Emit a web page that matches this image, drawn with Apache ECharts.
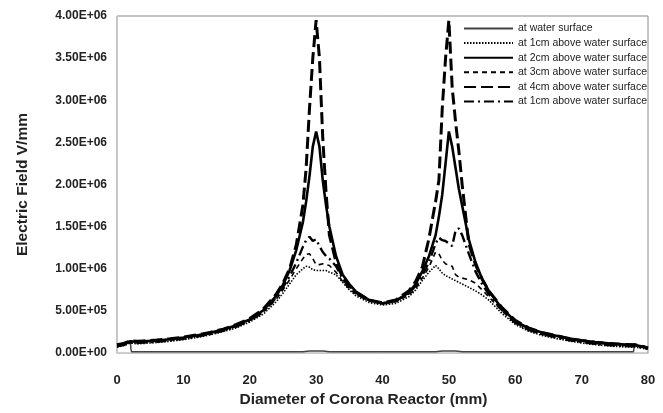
<!DOCTYPE html>
<html>
<head>
<meta charset="utf-8">
<script src="https://cdn.jsdelivr.net/npm/echarts@6/dist/echarts.min.js"></script>
<style>html,body{margin:0;padding:0;background:#fff;}#c{width:663px;height:413px;}</style>
</head>
<body>
<div id="c"></div>
<script>
// shared x positions (mm)
var xs = [0,1,2,3,4,6,8,10,12,14,16,18,20,22,24,25,26,27,28,28.5,29,29.5,30,30.5,31,31.5,32,33,34,35,36,38,40,42,44,45,46,47,48,48.5,49,49.5,50,50.5,51,51.5,52,53,54,55,56,58,60,62,64,66,68,70,72,74,76,78,79,80];

var names = ['at water surface','at 1cm above water surface','at 2cm above water surface','at 3cm above water surface','at 4cm above water surface','at 1cm above water surface '];

// at water surface (own x positions)
var waterX = [2.0,2.1,2.2,28,29,30,31,32,48,49,50,51,52,77.8,77.9,78.0];
var waterY = [1.4e5,0.5e5,0.15e5,0.15e5,0.25e5,0.25e5,0.25e5,0.15e5,0.15e5,0.25e5,0.25e5,0.25e5,0.15e5,0.15e5,0.6e5,1.2e5];

var dotted1cm = [0.7e5,0.9e5,1.2e5,1.1e5,1.15e5,1.25e5,1.4e5,1.6e5,1.85e5,2.15e5,2.55e5,3.0e5,3.7e5,4.6e5,6.1e5,7.1e5,8.2e5,9.3e5,1.0e6,1.03e6,1.02e6,0.99e6,0.98e6,0.98e6,0.98e6,0.98e6,0.96e6,0.93e6,0.84e6,0.75e6,0.68e6,0.6e6,0.57e6,0.59e6,0.67e6,0.75e6,0.86e6,0.96e6,1.04e6,1.0e6,0.95e6,0.92e6,0.9e6,0.88e6,0.86e6,0.84e6,0.82e6,0.78e6,0.74e6,0.69e6,0.63e6,0.47e6,0.34e6,2.6e5,2.1e5,1.75e5,1.45e5,1.2e5,1.0e5,0.85e5,0.75e5,0.7e5,0.6e5,0.45e5];

var solid2cm = [0.95e5,1.1e5,1.4e5,1.35e5,1.4e5,1.5e5,1.65e5,1.85e5,2.1e5,2.4e5,2.8e5,3.3e5,4.0e5,5.05e5,6.8e5,8.1e5,9.8e5,1.22e6,1.55e6,1.8e6,2.1e6,2.45e6,2.63e6,2.45e6,2.05e6,1.75e6,1.5e6,1.15e6,0.93e6,0.82e6,0.73e6,0.63e6,0.59e6,0.62e6,0.72e6,0.82e6,0.97e6,1.15e6,1.4e6,1.62e6,1.88e6,2.25e6,2.63e6,2.45e6,2.2e6,1.95e6,1.75e6,1.35e6,1.08e6,0.88e6,0.74e6,0.53e6,0.38e6,2.95e5,2.45e5,2.1e5,1.75e5,1.5e5,1.3e5,1.15e5,1.05e5,0.95e5,0.8e5,0.6e5];

var dash3cm = [0.85e5,1.0e5,1.3e5,1.25e5,1.3e5,1.4e5,1.55e5,1.75e5,2.0e5,2.3e5,2.7e5,3.15e5,3.85e5,4.85e5,6.4e5,7.5e5,8.7e5,1.0e6,1.12e6,1.17e6,1.18e6,1.12e6,1.05e6,1.05e6,1.06e6,1.05e6,1.04e6,0.96e6,0.85e6,0.76e6,0.7e6,0.62e6,0.585e6,0.61e6,0.69e6,0.77e6,0.89e6,1.02e6,1.2e6,1.18e6,1.1e6,1.06e6,1.04e6,1.03e6,0.93e6,0.9e6,0.89e6,0.87e6,0.83e6,0.75e6,0.67e6,0.5e6,0.36e6,2.75e5,2.25e5,1.9e5,1.6e5,1.35e5,1.15e5,1.0e5,0.9e5,0.85e5,0.72e5,0.52e5];

var longdash4cm = [1.0e5,1.15e5,1.45e5,1.4e5,1.45e5,1.55e5,1.7e5,1.9e5,2.15e5,2.45e5,2.85e5,3.4e5,4.1e5,5.2e5,7.0e5,8.3e5,1.0e6,1.28e6,1.75e6,2.2e6,2.9e6,3.5e6,3.95e6,3.5e6,2.55e6,1.9e6,1.4e6,1.08e6,0.9e6,0.8e6,0.72e6,0.63e6,0.595e6,0.63e6,0.74e6,0.85e6,1.02e6,1.36e6,1.8e6,2.05e6,2.9e6,3.5e6,3.95e6,3.15e6,2.75e6,2.4e6,2.0e6,1.3e6,1.05e6,0.88e6,0.74e6,0.54e6,0.39e6,3.0e5,2.45e5,2.1e5,1.75e5,1.5e5,1.3e5,1.15e5,1.05e5,1.0e5,0.85e5,0.62e5];

var dashdot1cm = [0.8e5,0.95e5,1.25e5,1.2e5,1.25e5,1.35e5,1.5e5,1.7e5,1.95e5,2.25e5,2.65e5,3.15e5,3.85e5,4.85e5,6.6e5,7.8e5,9.1e5,1.07e6,1.26e6,1.34e6,1.38e6,1.33e6,1.35e6,1.27e6,1.2e6,1.15e6,1.12e6,1.03e6,0.88e6,0.78e6,0.71e6,0.62e6,0.59e6,0.62e6,0.71e6,0.8e6,0.92e6,1.08e6,1.3e6,1.37e6,1.34e6,1.33e6,1.3e6,1.27e6,1.45e6,1.48e6,1.4e6,1.18e6,0.97e6,0.82e6,0.7e6,0.51e6,0.36e6,2.75e5,2.25e5,1.9e5,1.55e5,1.3e5,1.1e5,0.95e5,0.85e5,0.8e5,0.68e5,0.5e5];

var xTicks = [0,10,20,30,40,50,60,70,80];

function zip(x, y){ return x.map(function(v,i){ return [v, y[i]]; }); }
function sci(v){
  var p = v.toExponential(2).split('e');
  var e = p[1]; var s = e[0]; var d = e.slice(1); if (d.length < 2) d = '0' + d;
  return p[0] + 'E' + s + d;
}

var chart = echarts.init(document.getElementById('c'), null, {renderer:'canvas'});
var FONT = 'Liberation Sans';
function line(name, data, color, width, type){
  return {name:name, type:'line', data:data, showSymbol:false, symbol:'none', smooth:false, animation:false,
    lineStyle:{color:color, width:width, type:type}, itemStyle:{color:color}, z:3};
}
chart.setOption({
  animation:false,
  grid:{left:117, right:15, top:16, bottom:57, show:true, borderColor:'#8a8a8a', borderWidth:1},
  xAxis:{type:'value', min:0, max:80, interval:10,
    name:'Diameter of Corona Reactor (mm)', nameLocation:'middle', nameGap:38,
    nameTextStyle:{fontFamily:FONT, fontSize:15.5, fontWeight:'bold', color:'#222', padding:[0,38,0,0]},
    axisLine:{show:true, lineStyle:{color:'#c8c8c8'}}, axisTick:{show:false}, splitLine:{show:false},
    axisLabel:{margin:21, fontFamily:FONT, fontSize:13, fontWeight:'bold', color:'#222'}},
  yAxis:{type:'value', min:0, max:4e6, interval:5e5,
    name:'Electric Field V/mm', nameLocation:'middle', nameGap:86, nameRotate:90,
    nameTextStyle:{fontFamily:FONT, fontSize:15.5, fontWeight:'bold', color:'#222'},
    axisLine:{show:true, lineStyle:{color:'#c8c8c8'}}, axisTick:{show:false}, splitLine:{show:false},
    axisLabel:{margin:10, fontFamily:FONT, fontSize:12, fontWeight:'bold', color:'#222', formatter:sci}},
  legend:{show:true, orient:'vertical', left:463, top:23, padding:0, itemWidth:49, itemHeight:10, itemGap:3.6,
    itemStyle:{opacity:0},
    textStyle:{fontFamily:FONT, fontSize:10.5, color:'#222'},
    data:names},
  series:[
    line(names[0], zip(waterX, waterY), '#444', 1.5, 'solid'),
    line(names[1], zip(xs, dotted1cm), '#000', 1.6, [1.5,1.5]),
    line(names[2], zip(xs, solid2cm), '#000', 2.6, 'solid'),
    line(names[3], zip(xs, dash3cm), '#000', 1.6, [5,4]),
    line(names[4], zip(xs, longdash4cm), '#000', 3, [12,5]),
    line(names[5], zip(xs, dashdot1cm), '#000', 2.4, [10,4,2,4])
  ]
});
</script>
</body>
</html>
